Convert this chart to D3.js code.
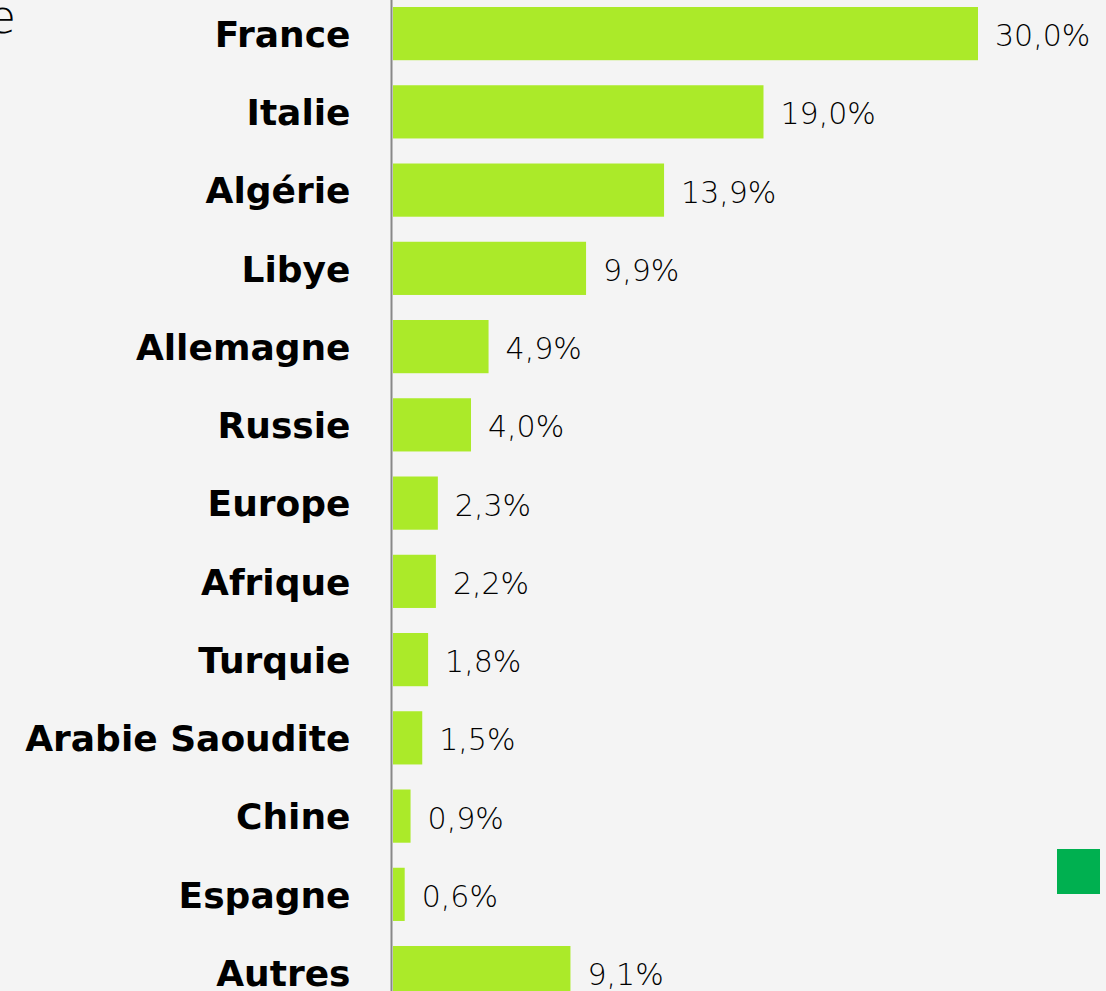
<!DOCTYPE html>
<html>
<head>
<meta charset="utf-8">
<style>
  body { margin: 0; background: #f4f4f4; }
  svg { display: block; }
</style>
</head>
<body>
<svg width="1106" height="991"></svg>
<script src="https://d3js.org/d3.v7.min.js"></script>
<script>
  // data
  const countries = ["France", "Italie", "Algérie", "Libye", "Allemagne", "Russie", "Europe",
    "Afrique", "Turquie", "Arabie Saoudite", "Chine", "Espagne", "Autres"];
  const shares = [30.0, 19.0, 13.9, 9.9, 4.9, 4.0, 2.3, 2.2, 1.8, 1.5, 0.9, 0.6, 9.1];
  const labels = ["30,0%", "19,0%", "13,9%", "9,9%", "4,9%", "4,0%", "2,3%",
    "2,2%", "1,8%", "1,5%", "0,9%", "0,6%", "9,1%"];

  const data = countries.map((c, i) => ({ country: c, value: shares[i], label: labels[i] }));

  const width = 1106, height = 991;
  const svg = d3.select("svg");

  svg.append("rect")
    .attr("width", width)
    .attr("height", height)
    .attr("fill", "#f4f4f4");

  const step = 78.25;
  const pad = 0.32;
  const y = d3.scaleBand()
    .domain(countries)
    .range([7 - pad * step, 7 - pad * step + (countries.length + pad) * step])
    .padding(pad);

  const x = d3.scaleLinear()
    .domain([0, 30])
    .range([393, 978]);

  // cropped title fragment at the top-left
  svg.append("text")
    .attr("x", 16)
    .attr("y", 33)
    .attr("text-anchor", "end")
    .attr("font-family", "DejaVu Sans, sans-serif")
    .attr("font-weight", 200)
    .attr("font-size", 46)
    .attr("fill", "#000")
    .text("e");

  svg.append("g")
    .selectAll("rect")
    .data(data)
    .join("rect")
      .attr("x", x(0))
      .attr("y", d => y(d.country))
      .attr("width", d => x(d.value) - x(0))
      .attr("height", y.bandwidth())
      .attr("fill", "#abea29");

  // category axis
  const yAxis = g => g
    .attr("transform", `translate(${x(0) - 1.5},0)`)
    .call(d3.axisLeft(y).tickSize(0).tickPadding(41))
    .call(g => g.select(".domain")
      .attr("d", `M0,0V${height}`)
      .attr("stroke", "#888")
      .attr("stroke-width", 2))
    .call(g => g.selectAll(".tick text")
      .attr("dy", "0.37em")
      .attr("font-family", "DejaVu Sans, sans-serif")
      .attr("font-weight", 700)
      .attr("font-size", 36)
      .attr("fill", "#000"));

  svg.append("g").call(yAxis);

  svg.append("g")
    .attr("font-family", "DejaVu Sans, sans-serif")
    .attr("font-weight", 200)
    .attr("font-size", 30)
    .attr("fill", "#000")
    .selectAll("text")
    .data(data)
    .join("text")
      .attr("x", d => x(d.value) + 17)
      .attr("y", d => y(d.country) + y.bandwidth() / 2)
      .attr("dy", "0.42em")
      .text(d => d.label);

  // legend swatch cut off at the right edge
  svg.append("rect")
    .attr("x", 1057)
    .attr("y", 849)
    .attr("width", 43)
    .attr("height", 45)
    .attr("fill", "#00b050");
</script>
</body>
</html>
